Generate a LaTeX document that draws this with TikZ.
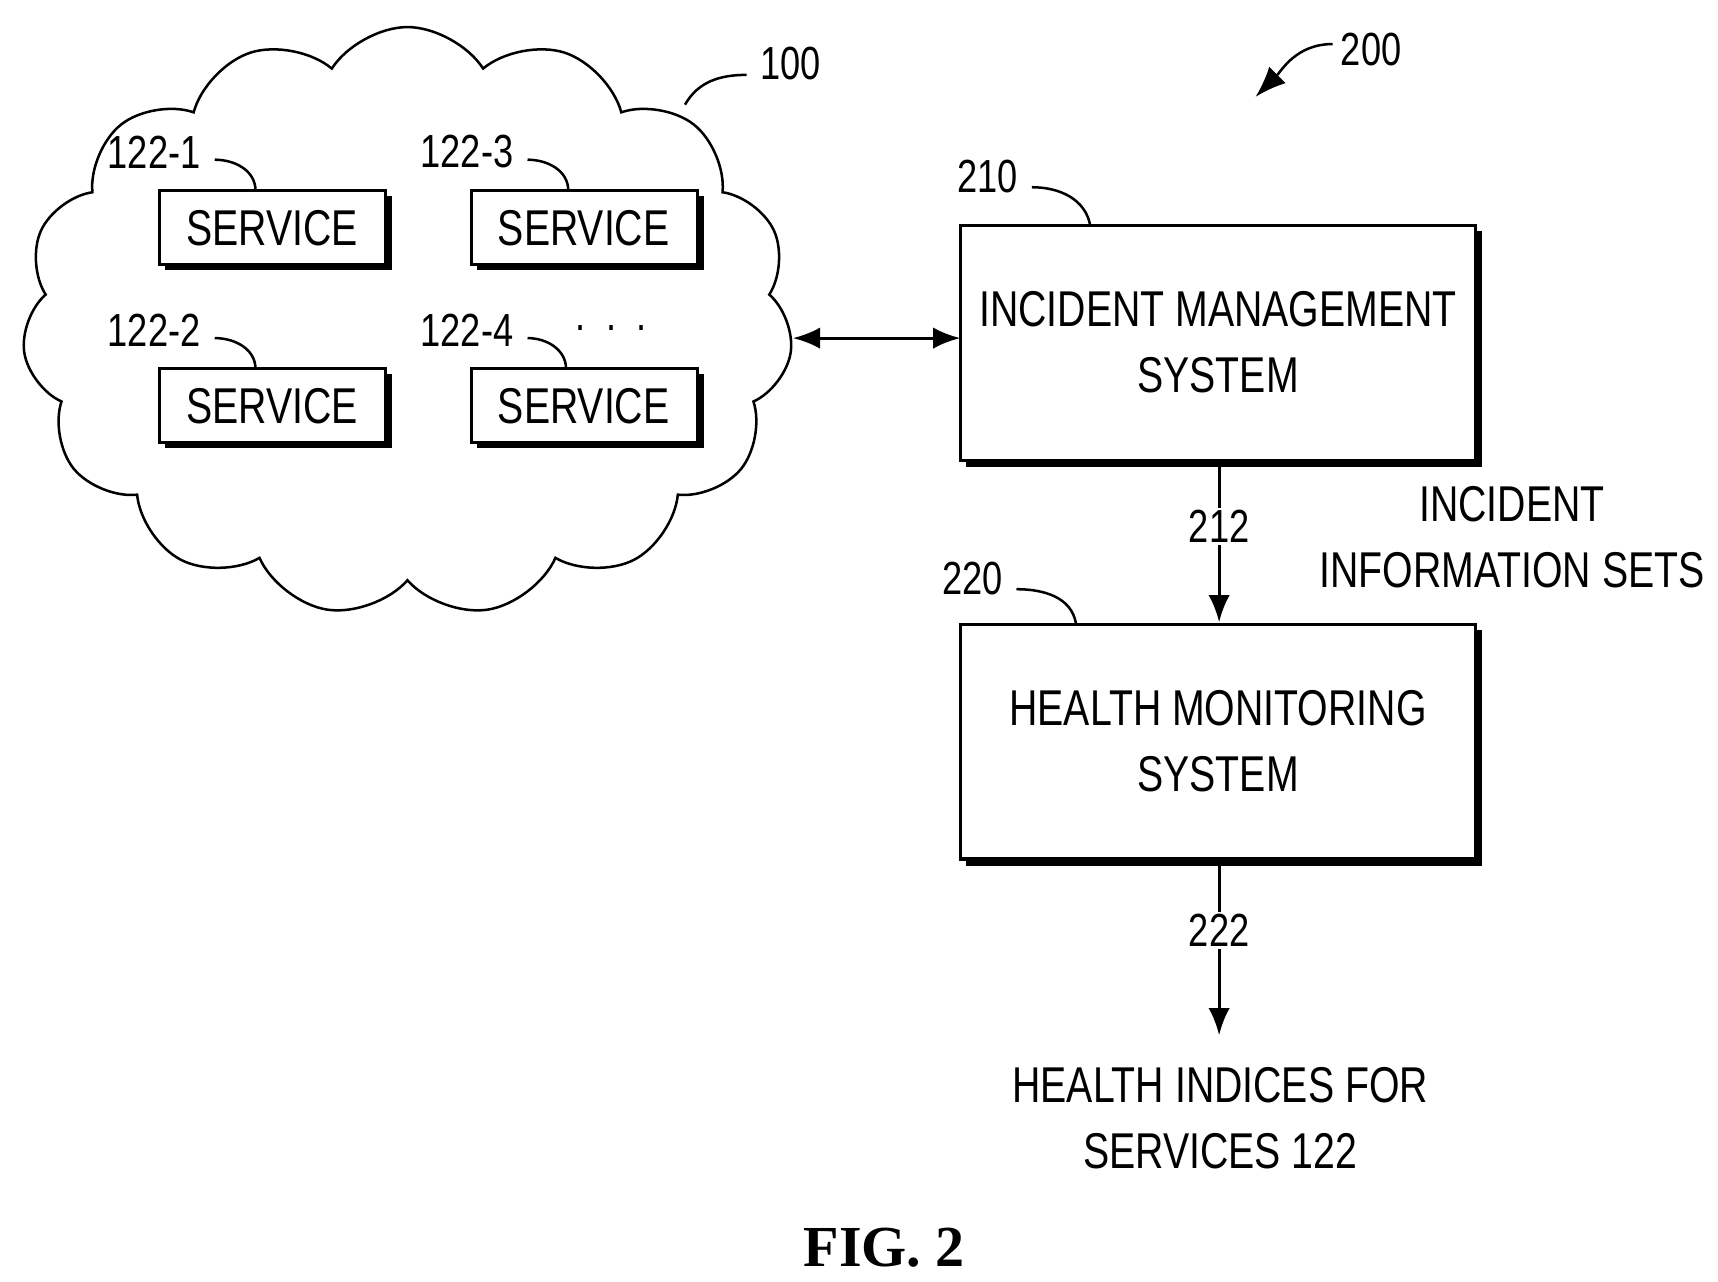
\documentclass[tikz,border=0pt]{standalone}
\usepackage{fontspec}
\setmainfont{Liberation Sans}[FakeStretch=0.78]
\newfontfamily\figfont{Liberation Serif}
\usetikzlibrary{shapes.symbols,arrows.meta}
\begin{document}
\begin{tikzpicture}[x=0.02cm,y=-0.02cm,
  lbl/.style={font=\fontsize{24}{28}\selectfont, inner sep=1pt},
  txt/.style={font=\fontsize{26}{34}\selectfont, align=center},
  box/.style={draw, line width=1.6pt, fill=white},
  shadow/.style={fill=black},
  lead/.style={line width=1.3pt},
  arr/.style={line width=1.6pt, -{Latex[length=14pt,width=11pt]}}]
\useasboundingbox (0,0) rectangle (1560,1164);
% cloud
\node[cloud, draw, line width=1.3pt, cloud puffs=15, cloud puff arc=115, cloud ignores aspect,
  minimum width=14cm, minimum height=10.7cm] (cl) at (370,292) {};
% service boxes
\foreach \n/\x/\y/\t in {s1/145/173/SERVICE, s3/428/173/SERVICE, s2/145/335/SERVICE, s4/428/335/SERVICE}{
  \fill[shadow] (\x+5,\y+5) rectangle ++(206,67);
  \draw[box] (\x,\y) rectangle ++(205,67);
  \node[txt] (\n) at (\x+102,\y+34) {\t};
}
\node[lbl] (l1) at (140,138) {122-1};
\node[lbl] (l3) at (424,138) {122-3};
\node[lbl] (l2) at (140,300) {122-2};
\node[lbl] (l4) at (424,300) {122-4};
\draw[lead] (195,145) to[out=0,in=90] (232,173);
\draw[lead] (479,145) to[out=0,in=90] (516,173);
\draw[lead] (195,307) to[out=0,in=90] (232,335);
\draw[lead] (479,307) to[out=0,in=90] (514,335);
\node[lbl] (dots) at (555,298) {.\ \ .\ \ .};
\node[lbl] (n100) at (718,58) {100};
\draw[lead] (622,95) to[out=60,in=180] (678,68);
\node[lbl] (n200) at (1245,45) {200};
\draw[lead,-{Latex[length=16pt,width=12pt]}] (1210,40) to[out=180,in=45] (1140,88);
% IMS
\fill[shadow] (877,210) rectangle (1346,424);
\draw[box] (872,205) rectangle (1340,418);
\node[txt] (ims) at (1106,311) {INCIDENT MANAGEMENT\\SYSTEM};
\node[lbl] (n210) at (897,160) {210};
\draw[lead] (937,170) to[out=0,in=100] (990,205);
\coordinate (cr) at (720,307);
\coordinate (il) at (872,307);
\draw[line width=1.6pt,{Latex[length=14pt,width=11pt]}-{Latex[length=14pt,width=11pt]}] (cr) -- (il);
% HMS
\fill[shadow] (877,572) rectangle (1346,786);
\draw[box] (872,567) rectangle (1340,780);
\node[txt] (hms) at (1106,673) {HEALTH MONITORING\\SYSTEM};
\node[lbl] (n220) at (883,525) {220};
\draw[lead] (923,535) to[out=0,in=100] (977,566);
\coordinate (a1) at (1107,424);
\coordinate (a2) at (1107,565);
\draw[arr] (a1) -- (a2);
\node[lbl, fill=white] (n212) at (1107,478) {212};
\node[txt, align=center] (iis) at (1373,488) {INCIDENT\\INFORMATION SETS};
\coordinate (b1) at (1107,786);
\coordinate (b2) at (1107,940);
\draw[arr] (b1) -- (b2);
\node[lbl, fill=white] (n222) at (1107,845) {222};
\node[txt] (hi) at (1108,1015) {HEALTH INDICES FOR\\SERVICES 122};
\node[font=\figfont\bfseries\fontsize{30}{34}\selectfont] (fig) at (803,1133) {FIG. 2};
\end{tikzpicture}
\end{document}
